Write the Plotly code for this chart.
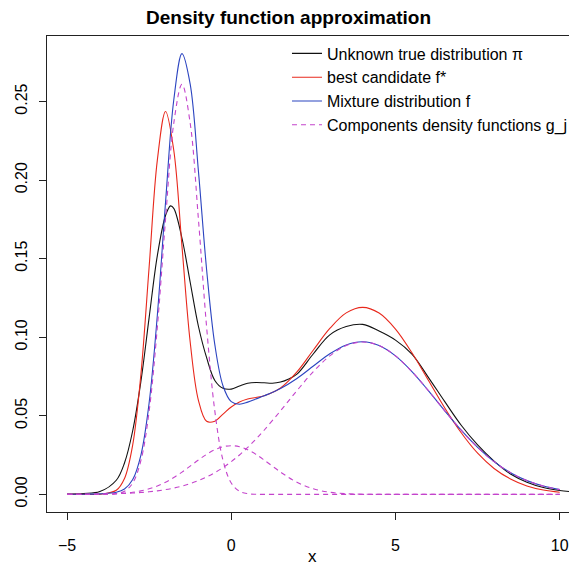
import plotly.graph_objects as go

# ---- data ----
x_grid = [-5, -4.5, -4, -3.5, -3.25, -3, -2.75, -2.5, -2.25, -2, -1.75, -1.5, -1.25, -1,
          -0.75, -0.5, -0.25, 0, 0.25, 0.5, 0.75, 1, 1.5, 2, 2.5, 3, 3.5, 4, 4.5, 5,
          5.5, 6, 6.5, 7, 7.5, 8, 8.5, 9, 9.5, 10]

x_true = [-5, -4.5, -4, -3.5, -3.25, -3, -2.75, -2.5, -2.25, -2, -1.85, -1.75, -1.5, -1.25,
          -1, -0.75, -0.5, -0.25, 0, 0.25, 0.5, 0.75, 1, 1.25, 1.5, 1.75, 2, 2.5, 3, 3.5,
          4, 4.5, 5, 5.5, 6, 6.5, 7, 7.5, 8, 8.5, 9, 9.5, 10, 10.6]

true_density = [0.0002, 0.0006, 0.0018, 0.0090, 0.0200, 0.0405, 0.0720, 0.1125, 0.1520, 0.1775,
                0.1836, 0.1820, 0.1630, 0.1350, 0.1070, 0.0870, 0.0725, 0.0675, 0.0670, 0.0690,
                0.0707, 0.0712, 0.0710, 0.0707, 0.0715, 0.0735, 0.0765, 0.0895, 0.1015, 0.1068,
                0.1082, 0.1040, 0.0982, 0.0893, 0.0745, 0.0590, 0.0440, 0.0315, 0.0212, 0.0130,
                0.0078, 0.0044, 0.0025, 0.0012]

best_candidate = [0.0000, 0.0000, 0.0001, 0.0026, 0.0101, 0.0315, 0.0765, 0.1447, 0.2127, 0.2437,
                  0.2190, 0.1578, 0.0970, 0.0599, 0.0465, 0.0466, 0.0511, 0.0556, 0.0588, 0.0607,
                  0.0617, 0.0628, 0.0677, 0.0779, 0.0919, 0.1056, 0.1155, 0.1190, 0.1154, 0.1052,
                  0.0901, 0.0726, 0.0550, 0.0392, 0.0262, 0.0165, 0.0098, 0.0054, 0.0028, 0.0014]

mixture = [0.00005, 0.00012, 0.00034, 0.00131, 0.00339, 0.00944, 0.02505, 0.05821, 0.11401, 0.18597,
           0.25094, 0.28048, 0.26107, 0.20587, 0.14299, 0.09526, 0.06901, 0.05904, 0.05740, 0.05873,
           0.06071, 0.06273, 0.06738, 0.07376, 0.08167, 0.08947, 0.09513, 0.09712, 0.09472, 0.08811,
           0.07813, 0.06603, 0.05319, 0.04083, 0.02987, 0.02083, 0.01384, 0.00877, 0.00529, 0.00304]

g1 = [0, 0, 0.00001, 0.00044, 0.00198, 0.00721, 0.0216, 0.0530, 0.1064, 0.1752,
      0.2362, 0.2610, 0.2362, 0.1752, 0.1064, 0.0530, 0.0216, 0.00721, 0.00198, 0.00044,
      0.00008, 0.00001, 0, 0, 0, 0, 0, 0, 0, 0,
      0, 0, 0, 0, 0, 0, 0, 0, 0, 0]

g2 = [0.00001, 0.00003, 0.00012, 0.00044, 0.00079, 0.00136, 0.00224, 0.00354, 0.00534, 0.00773,
      0.01070, 0.01419, 0.01802, 0.02190, 0.02550, 0.02842, 0.03033, 0.03100, 0.03033, 0.02842,
      0.02550, 0.02190, 0.01419, 0.00773, 0.00354, 0.00136, 0.00044, 0.00012, 0.00003, 0,
      0, 0, 0, 0, 0, 0, 0, 0, 0, 0]

g3 = [0.00004, 0.00009, 0.00021, 0.00043, 0.00062, 0.00087, 0.00121, 0.00167, 0.00227, 0.00304,
      0.00404, 0.00529, 0.00685, 0.00877, 0.01109, 0.01384, 0.01708, 0.02083, 0.02509, 0.02987,
      0.03513, 0.04083, 0.05319, 0.06603, 0.07813, 0.08811, 0.09469, 0.09700, 0.09469, 0.08811,
      0.07813, 0.06603, 0.05319, 0.04083, 0.02987, 0.02083, 0.01384, 0.00877, 0.00529, 0.00304]

x_ticks = [-5, 0, 5, 10]
y_ticks = [0.00, 0.05, 0.10, 0.15, 0.20, 0.25]
y_tick_labels = ["0.00", "0.05", "0.10", "0.15", "0.20", "0.25"]

legend_names = ["Unknown true distribution \u03c0", "best candidate f*",
                "Mixture distribution f", "Components density functions g_j"]

# ---- styles ----
BLACK = "#111111"
RED = "#E8281C"
BLUE = "#2B44C0"
MAGENTA = "#C444CC"
FONT = "Liberation Sans, Arial, Helvetica, sans-serif"

fig = go.Figure()
fig.add_trace(go.Scatter(x=x_true, y=true_density, mode="lines", name=legend_names[0],
                         line=dict(color=BLACK, width=1.1, shape="spline", smoothing=1)))
fig.add_trace(go.Scatter(x=x_grid, y=best_candidate, mode="lines", name=legend_names[1],
                         line=dict(color=RED, width=1.1, shape="spline", smoothing=1)))
fig.add_trace(go.Scatter(x=x_grid, y=mixture, mode="lines", name=legend_names[2],
                         line=dict(color=BLUE, width=1.1, shape="spline", smoothing=1)))
for i, g in enumerate([g1, g2, g3]):
    fig.add_trace(go.Scatter(x=x_grid, y=g, mode="lines", name=legend_names[3],
                             showlegend=(i == 0),
                             line=dict(color=MAGENTA, width=1.1, dash="5px,4px",
                                       shape="spline", smoothing=1)))

# the page body adds an 8px offset, so the figure is 8px smaller than the window
fig.update_layout(
    width=569, height=563,
    margin=dict(l=39, r=0, t=28, b=59, autoexpand=False),
    paper_bgcolor="white", plot_bgcolor="white",
    font=dict(family=FONT, size=16, color="black"),
    title=dict(text="<b>Density function approximation</b>", x=0.493, xref="container",
               xanchor="center", y=0.984, yanchor="middle",
               font=dict(family=FONT, size=19, color="black")),
    showlegend=True,
    legend=dict(x=0.4528, y=0.999, xanchor="left", yanchor="top",
                bgcolor="rgba(0,0,0,0)", borderwidth=0,
                font=dict(family=FONT, size=16, color="black"),
                itemwidth=30, tracegroupgap=0),
    annotations=[dict(text="x", xref="paper", yref="paper", x=0.5, y=-0.0945,
                      xanchor="center", yanchor="middle", showarrow=False,
                      font=dict(family=FONT, size=17, color="black"))],
)
fig.update_xaxes(range=[-5.609, 10.525], tickvals=x_ticks, ticks="outside", ticklen=7,
                 tickwidth=1, tickcolor="#222", showline=True, mirror=True,
                 linecolor="#222", linewidth=1, showgrid=False, zeroline=False,
                 automargin=False, ticklabelstandoff=12,
                 tickfont=dict(family=FONT, size=16, color="black"))
fig.update_yaxes(range=[-0.0112, 0.2917], tickvals=y_ticks, ticktext=y_tick_labels,
                 tickangle=-90, ticks="outside", ticklen=7, tickwidth=1, tickcolor="#222",
                 showline=True, mirror=True, linecolor="#222", linewidth=1,
                 showgrid=False, zeroline=False, automargin=False, ticklabelstandoff=6,
                 tickfont=dict(family=FONT, size=16, color="black"))

fig.write_html("out.html")
